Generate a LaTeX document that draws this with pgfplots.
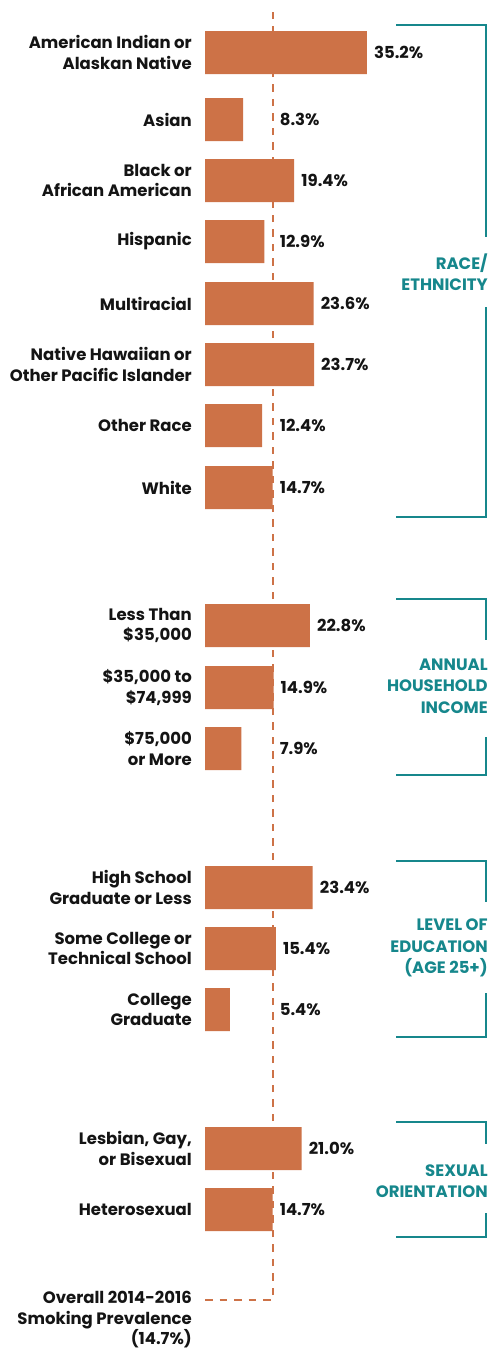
\documentclass[border=0pt]{standalone}
\usepackage{pgfplots}
\usepackage{pgfplotstable}
\pgfplotsset{compat=1.18}
\usepackage{fontspec}
\setmainfont{Poppins}
\definecolor{barc}{RGB}{205,114,71}
\definecolor{tealc}{RGB}{22,135,140}
\definecolor{txt}{RGB}{20,20,20}

\pgfplotstableread{
y v
52.5 35.2
119.5 8.3
180.5 19.4
241.5 12.9
303.5 23.6
364.5 23.7
425.5 12.4
487.5 14.7
625.5 22.8
687.5 14.9
748.5 7.9
887.5 23.4
948.5 15.4
1009.5 5.4
1148.5 21.0
1209.5 14.7
}\bars

\newcommand{\lab}[2]{\node[anchor=east,align=right,inner sep=0pt,xshift=-13pt,text=txt,font=\fontsize{16.5}{20.5}\selectfont\bfseries] at (axis cs:0,#1) {#2};}
\newcommand{\grp}[2]{\node[anchor=east,align=right,inner sep=0pt,text=tealc,font=\fontsize{16.5}{21.5}\selectfont\bfseries] at (axis cs:61.5,#1) {#2};}
% bracket: top, gaptop, gapbottom, bottom
\newcommand{\brk}[4]{\draw[tealc,line width=1.5pt] (axis cs:41.52,#1) -- (axis cs:61.09,#1) -- (axis cs:61.09,#2);
\draw[tealc,line width=1.5pt] (axis cs:61.09,#3) -- (axis cs:61.09,#4) -- (axis cs:41.52,#4);}

\begin{document}
\begin{tikzpicture}
\begin{axis}[
  width=487pt, height=1355pt, scale only axis,
  xmin=-44.5652, xmax=61.3043,
  ymin=0, ymax=1355, y dir=reverse,
  hide axis, clip=false,
]
\addplot[barc, line width=2.2pt, dash pattern=on 7.5pt off 7pt] coordinates {(0,1300) (14.7,1300) (14.7,8)};
\addplot[xbar, bar shift=0pt, bar width=43, fill=barc, draw=none] table[x=v,y=y] {\bars};
\addplot[draw=none, mark=none, point meta=\thisrow{v},
  nodes near coords={\pgfmathprintnumber[fixed,fixed zerofill,precision=1,assume math mode=true]{\pgfplotspointmeta}\%},
  every node near coord/.style={anchor=west, xshift=7pt, inner sep=0pt, text=txt, font=\fontsize{16.5}{18}\selectfont\bfseries}]
  table[x expr={max(\thisrow{v},14.7)}, y=y] {\bars};

\lab{52.5}{American Indian or\\Alaskan Native}
\lab{119.5}{Asian}
\lab{180.5}{Black or\\African American}
\lab{241.5}{Hispanic}
\lab{303.5}{Multiracial}
\lab{364.5}{Native Hawaiian or\\Other Pacific Islander}
\lab{425.5}{Other Race}
\lab{487.5}{White}
\lab{625.5}{Less Than\\\$35,000}
\lab{687.5}{\$35,000 to\\\$74,999}
\lab{748.5}{\$75,000\\or More}
\lab{887.5}{High School\\Graduate or Less}
\lab{948.5}{Some College or\\Technical School}
\lab{1009.5}{College\\Graduate}
\lab{1148.5}{Lesbian, Gay,\\or Bisexual}
\lab{1209.5}{Heterosexual}
\node[anchor=north east,align=right,inner sep=0pt,xshift=-13pt,text=txt,font=\fontsize{16.5}{20.5}\selectfont\bfseries] at (axis cs:0,1291) {Overall 2014-2016\\Smoking Prevalence\\(14.7\%)};

\brk{25}{237}{307}{517}
\brk{599}{640}{737}{775}
\brk{861}{902}{993}{1037}
\brk{1122}{1144}{1213}{1237}

\grp{272}{RACE/\\ETHNICITY}
\grp{686}{ANNUAL\\HOUSEHOLD\\INCOME}
\grp{948}{LEVEL OF\\EDUCATION\\(AGE 25+)}
\grp{1181}{SEXUAL\\ORIENTATION}
\end{axis}
\pgfresetboundingbox
\path (current axis.south west) rectangle (current axis.north east);
\end{tikzpicture}
\end{document}
